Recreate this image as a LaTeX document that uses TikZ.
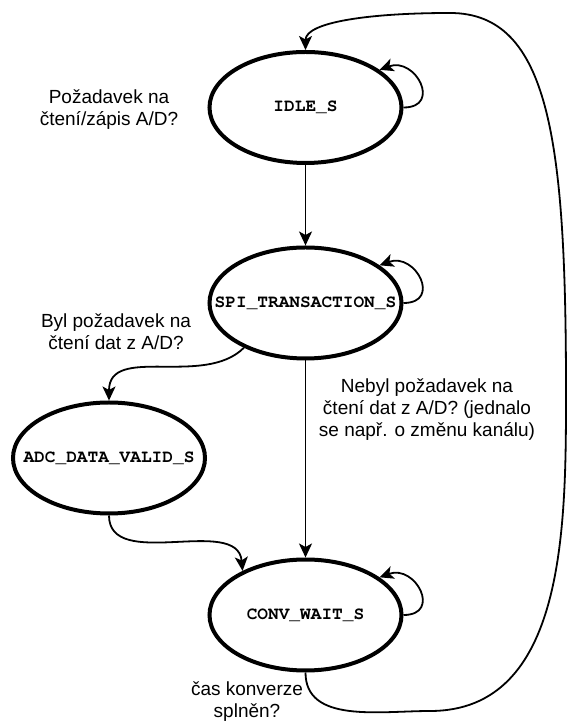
\documentclass[tikz,border=0pt]{standalone}
\usepackage[T1]{fontenc}
\usepackage{fontspec}
\setmainfont{Liberation Sans}
\usepackage{tikz}
\usetikzlibrary{shapes.geometric, arrows.meta, positioning}

\newcommand{\stname}[1]{\makebox[0pt]{#1}}

\begin{document}
\begin{tikzpicture}[x=1pt, y=1pt,
        state/.style={ellipse, draw=black, line width=4pt, minimum width=192pt, minimum height=111pt, inner sep=0pt,
            font=\fontencoding{T1}\fontfamily{pcr}\fontseries{b}\fontsize{17.8}{20}\selectfont},
        lbl/.style={align=center, font=\fontsize{19}{22}\selectfont},
        trans/.style={line width=1.8pt, -{Stealth[length=14pt, width=13pt, inset=3.5pt]}}]
        \useasboundingbox (0,0) rectangle (568,722);

        % --- States ---
        \node[state] (idle) at (305.5, 614.5) {\stname{IDLE\_S}};
        \node[state] (spi) at (305.5, 419) {\stname{SPI\_TRANSACTION\_S}};
        \node[state] (adc) at (109, 264) {\stname{ADC\_DATA\_VALID\_S}};
        \node[state] (conv) at (305.5, 107) {\stname{CONV\_WAIT\_S}};

        % --- Conditions ---
        \node[lbl] (reqlbl) at (109, 612) {Požadavek na\\čtení/zápis A/D?};
        \node[lbl] (readlbl) at (116, 390) {Byl požadavek na\\čtení dat z A/D?};
        \node[lbl] (noreadlbl) at (427, 312) {Nebyl požadavek na\\čtení dat z A/D? (jednalo\\se např. o změnu kanálu)};
        \node[lbl] (timelbl) at (247, 20) {čas konverze\\splněn?};

        % --- Transitions ---
        \draw[trans] (idle.south) -- (spi.north);
        \draw[trans] (spi.south) -- (conv.north);
        \draw[trans] (spi.216) to[out=225, in=90] (adc.north);
        \draw[trans] (adc.south) to[out=-90, in=95] (conv.145);

        % self loops
        \draw[trans] (idle.east) to[out=0, in=20, looseness=2.2] (idle.27);
        \draw[trans] (spi.east) to[out=0, in=20, looseness=2.2] (spi.27);
        \draw[trans] (conv.east) to[out=0, in=20, looseness=2.2] (conv.27);

        % back to idle
        \coordinate (loopbot) at (430, 11);
        \coordinate (loopright) at (566, 330);
        \coordinate (looptop) at (450, 709);
        \draw[trans] (conv.south) to[out=-90, in=180] (loopbot) to[out=0, in=-90] (loopright)
            .. controls (566, 580) and (550, 709) .. (looptop)
            .. controls (370, 709) and (305.5, 700) .. (idle.north);
    \end{tikzpicture}
\end{document}
